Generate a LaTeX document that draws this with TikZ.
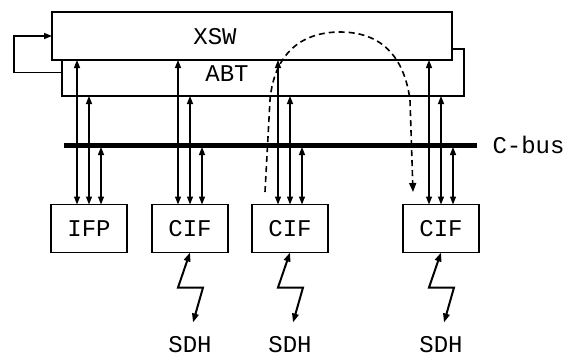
\documentclass[tikz,border=0pt]{standalone}
\usepackage{fontspec}
\setmonofont{Liberation Mono}
\usepackage{tikz}
\usetikzlibrary{arrows.meta,positioning}

\begin{document}
\begin{tikzpicture}[
    x=1pt, y=-1pt,
    font=\ttfamily\fontsize{24}{24}\selectfont,
    unit/.style={rectangle, draw=black, line width=1.5pt, minimum width=76pt, minimum height=48pt, inner sep=0pt, outer sep=0pt},
    layer/.style={rectangle, draw=black, fill=white, line width=1.5pt, inner sep=0pt, outer sep=0pt},
    link/.style={{Triangle[length=8pt,width=6pt]}-{Triangle[length=8pt,width=6pt]}, line width=1.4pt},
    radio/.style={{Triangle[length=9pt,width=6.5pt]}-{Triangle[length=9pt,width=6.5pt]}, line width=2pt, line join=miter},
    feed/.style={-{Triangle[length=8pt,width=6pt]}, line width=1.4pt},
    cbus/.style={line width=5pt},
    flow/.style={dash pattern=on 6pt off 4pt, line width=1.6pt, -{Triangle[length=9pt,width=7pt]}},
  ]
  \useasboundingbox (0,0) rectangle (573,360);

  % switch and buffer
  \node[layer, minimum width=402pt, minimum height=47pt] (abt) at (263,72.5) {};
  \node[layer, minimum width=400pt, minimum height=48pt] (xsw) at (252,36) {};
  \node (xswtext) at (215,37) {XSW};
  \node (abttext) at (227,74) {ABT};
  \draw[feed] (abt.west) -- ++(-48,0) |- (xsw.west);

  % control bus
  \coordinate (busW) at (64,145);
  \coordinate (busE) at (477,145);
  \draw[cbus] (busW) -- (busE);
  \node[anchor=west, xshift=12pt] (cbuslabel) at (busE) {C-bus};

  % interface units
  \node[unit] (ifp) at (89,228.5) {IFP};
  \node[unit, right=25pt of ifp] (cif1) {CIF};
  \node[unit, right=24pt of cif1] (cif2) {CIF};
  \node[unit, right=75pt of cif2] (cif3) {CIF};

  \foreach \u in {ifp,cif1,cif2,cif3} {
    \draw[link] ([xshift=-12pt]\u.north) -- ([xshift=-12pt]\u.north |- xsw.south);
    \draw[link] (\u.north) -- (\u.north |- abt.south);
    \draw[link, shorten >=2pt] ([xshift=12pt]\u.north) -- ([xshift=12pt]\u.north |- busW);
  }

  % SDH lines
  \foreach \u/\s in {cif1/sdh1, cif2/sdh2, cif3/sdh3} {
    \draw[radio] (\u.south) -- ++(-12,35) -- ++(25,0) -- ++(-10,35);
    \node[inner sep=0pt] (\s) at ([yshift=-92pt]\u.south) {SDH};
  }

  % connection through the switch
  \coordinate (dstart) at (265,192);
  \coordinate (dend) at (413,192);
  \draw[flow] (dstart) -- (270,100) .. controls (274,55) and (300,32) .. (340,32)
    .. controls (380,32) and (404,55) .. (410,100) -- (dend);
\end{tikzpicture}
\end{document}
